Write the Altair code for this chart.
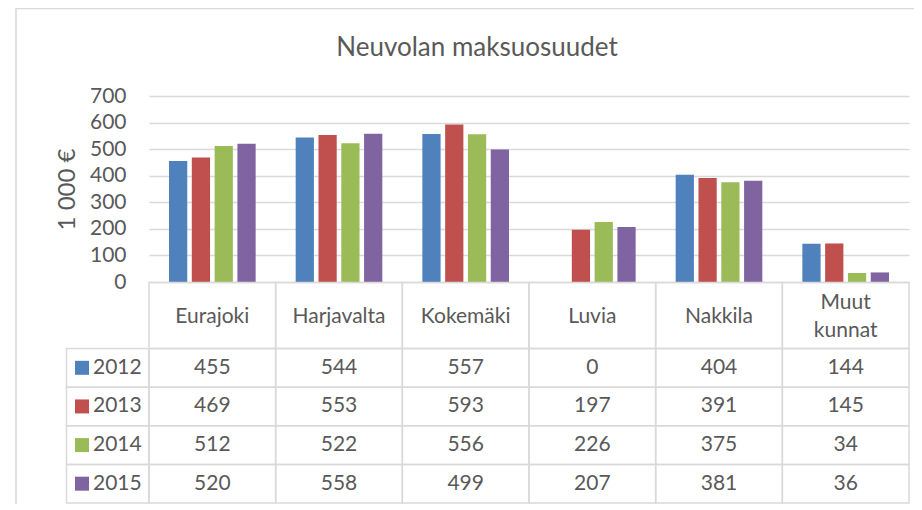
import altair as alt
import pandas as pd

categories = ["Eurajoki", "Harjavalta", "Kokemäki", "Luvia", "Nakkila", "Muut kunnat"]
years = ["2012", "2013", "2014", "2015"]
v2012 = [455, 544, 557, 0, 404, 144]
v2013 = [469, 553, 593, 197, 391, 145]
v2014 = [512, 522, 556, 226, 375, 34]
v2015 = [520, 558, 499, 207, 381, 36]
colors = ["#4F81BD", "#C0504D", "#9BBB59", "#8064A2"]

rows = []
for yr, vals in zip(years, [v2012, v2013, v2014, v2015]):
    for c, v in zip(categories, vals):
        rows.append({"category": c, "year": yr, "value": v})
df = pd.DataFrame(rows)
years_df = pd.DataFrame({"year": years})
cat_df = pd.DataFrame({"category": categories})
one_df = pd.DataFrame({"k": [0]})

FONT = "Lato"
TXT = "#595959"
GRID = "#D9D9D9"

W, H = 760, 186
TABLE_TOP = 186.5
HEADER_BOTTOM = 252.5
TABLE_BOTTOM = 407
LEG_LEFT = -82.5
HEADER_MID = 221

color = alt.Color("year:N", scale=alt.Scale(domain=years, range=colors), legend=None)

bars = alt.Chart(df).mark_bar().encode(
    x=alt.X("category:N", sort=categories,
            scale=alt.Scale(domain=categories, paddingInner=0.316, paddingOuter=0.158),
            axis=None),
    xOffset=alt.XOffset("year:N", sort=years,
                        scale=alt.Scale(domain=years, paddingInner=0.2)),
    y=alt.Y("value:Q", scale=alt.Scale(domain=[0, 700], nice=False),
            axis=alt.Axis(values=list(range(0, 800, 100)), title="1 000 €",
                          grid=True, gridColor=GRID, gridWidth=1.5,
                          domain=False, ticks=False, tickSize=0,
                          labelFont=FONT, labelFontSize=21, labelColor=TXT,
                          labelPadding=23, titleFont=FONT, titleFontSize=24,
                          titleColor=TXT, titleFontWeight="normal", titlePadding=10)),
    color=color,
)

xt = alt.X("category:N", sort=categories,
           scale=alt.Scale(domain=categories, paddingInner=0, paddingOuter=0), axis=None)
yt = alt.Y("year:N", sort=years,
           scale=alt.Scale(domain=years, range=[HEADER_BOTTOM, TABLE_BOTTOM],
                           paddingInner=0, paddingOuter=0),
           axis=None)

cell_style = dict(fill="transparent", stroke=GRID, strokeWidth=1.5)
text_style = dict(font=FONT, fontSize=21, color=TXT)

header = alt.Chart(cat_df).mark_rect(**cell_style).encode(
    x=xt, y=alt.value(TABLE_TOP), y2=alt.value(HEADER_BOTTOM))

header_single = alt.Chart(cat_df).transform_filter(
    "indexof(datum.category, ' ') < 0"
).mark_text(baseline="middle", **text_style).encode(
    x=xt, y=alt.value(HEADER_MID), text="category:N")

header_multi = alt.Chart(cat_df).transform_filter(
    "indexof(datum.category, ' ') >= 0"
).mark_text(baseline="middle", lineBreak=" ", lineHeight=28, dy=-14, **text_style).encode(
    x=xt, y=alt.value(HEADER_MID), text="category:N")

body = alt.Chart(df).mark_rect(**cell_style).encode(x=xt, y=yt)

body_text = alt.Chart(df).mark_text(**text_style).encode(
    x=xt, y=yt, text="value:Q")

leg_cells = alt.Chart(years_df).mark_rect(**cell_style).encode(
    x=alt.value(LEG_LEFT), x2=alt.value(0), y=yt)

leg_sq = alt.Chart(years_df).mark_square(size=196, opacity=1).encode(
    x=alt.value(-67), y=yt, color=color)

leg_txt = alt.Chart(years_df).mark_text(align="left", **text_style).encode(
    x=alt.value(-56), y=yt, text="year:N")

frame = alt.Chart(one_df).mark_rect(fill="transparent", stroke=GRID, strokeWidth=1.5).encode(
    x=alt.value(-133), x2=alt.value(W + 200), y=alt.value(-87.5), y2=alt.value(700))

chart = alt.layer(
    frame, bars, header, header_single, header_multi, body, body_text,
    leg_cells, leg_sq, leg_txt
).resolve_scale(
    x="independent", y="independent"
).properties(
    width=W, height=H,
    title=alt.TitleParams("Neuvolan maksuosuudet", font=FONT, fontSize=26,
                          fontWeight="normal", color=TXT, anchor="middle",
                          frame="group", baseline="alphabetic",
                          dx=-52, offset=-74),
    autosize=alt.AutoSizeParams(type="none"),
    padding={"left": 141, "top": 88, "right": 5, "bottom": 222},
).configure_view(stroke=None)

chart.save("out.html", embed_options={"renderer": "svg", "actions": False})
